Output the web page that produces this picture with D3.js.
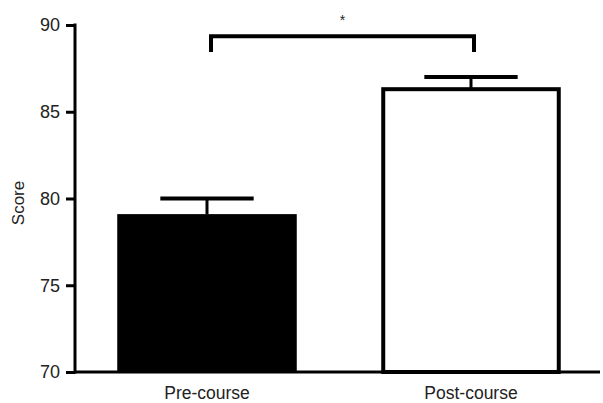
<!DOCTYPE html>
<html>
<head>
<meta charset="utf-8">
<script src="https://cdn.jsdelivr.net/npm/d3@7"></script>
<style>
  body { margin: 0; background: #fff; }
  text { font-family: "Liberation Sans", Arial, sans-serif; fill: #222; }
</style>
</head>
<body>
<div id="chart-area"></div>
<script>
var groups = ['Pre-course', 'Post-course'];
var means = [79.1, 86.3];
var errors = [0.9, 0.7];
var fills = ['#000', '#fff'];
var yTicks = [70, 75, 80, 85, 90];
var bracket = { from: 'Pre-course', to: 'Post-course', top: 89.35, leg: 88.45, label: '*' };

var W = 603, H = 403;
var margin = { top: 25, right: 0, bottom: 31, left: 75 };
var width = W - margin.left - margin.right;
var height = H - margin.top - margin.bottom;

var svg = d3.select('#chart-area').append('svg')
	.attr('width', W)
	.attr('height', H);
var g = svg.append('g').attr('transform', `translate(${margin.left}, ${margin.top})`);

var x = d3.scaleBand().domain(groups).range([0, width]).paddingInner(0.32).paddingOuter(0.16);
var y = d3.scaleLinear().domain([70, 90]).range([height, 0]);

// bars
g.selectAll('rect.bar').data(groups).enter()
	.append('rect')
		.attr('class', 'bar')
		.attr('x', (d, i) => x(d) + (i ? 2 : 0))
		.attr('y', (d, i) => y(means[i]))
		.attr('width', (d, i) => x.bandwidth() - (i ? 4 : 0))
		.attr('height', (d, i) => height - y(means[i]))
		.attr('fill', (d, i) => fills[i])
		.attr('stroke', '#000')
		.attr('stroke-width', (d, i) => i ? 4 : 0);

// error bars (upper only)
var capW = x.bandwidth() * 0.52;
groups.forEach((d, i) => {
	var cx = x(d) + x.bandwidth() / 2;
	g.append('line')
		.attr('x1', cx).attr('x2', cx)
		.attr('y1', y(means[i])).attr('y2', y(means[i] + errors[i]))
		.attr('stroke', '#000').attr('stroke-width', 3);
	g.append('line')
		.attr('x1', cx - capW / 2).attr('x2', cx + capW / 2)
		.attr('y1', y(means[i] + errors[i])).attr('y2', y(means[i] + errors[i]))
		.attr('stroke', '#000').attr('stroke-width', 4);
});

// axes
var yAxis = g.append('g').call(d3.axisLeft(y).tickValues(yTicks).tickSize(9).tickPadding(6));
yAxis.select('.domain').attr('stroke-width', 3).attr('d', `M0,${height + 1.5}V${-1.5}`);
yAxis.selectAll('.tick line').attr('stroke-width', 3);
yAxis.selectAll('.tick text').attr('font-size', '18px').attr('fill', '#222');

var xAxis = g.append('g').attr('transform', `translate(0, ${height})`)
	.call(d3.axisBottom(x).tickSize(0).tickPadding(15));
xAxis.select('.domain').attr('stroke-width', 3).attr('d', `M0,0H${width - 3}`);
xAxis.selectAll('.tick text').attr('font-size', '17.5px').attr('fill', '#222');

g.append('text')
	.attr('transform', 'rotate(-90)')
	.attr('x', -(height / 2 + 4.5))
	.attr('y', -51)
	.attr('text-anchor', 'middle')
	.attr('font-size', '17px')
	.text('Score');

// significance bracket
var bx1 = x(bracket.from) + x.bandwidth() / 2 + 4;
var bx2 = x(bracket.to) + x.bandwidth() / 2 + 3;
g.append('path')
	.attr('d', `M${bx1},${y(bracket.leg)}V${y(bracket.top)}H${bx2}V${y(bracket.leg)}`)
	.attr('fill', 'none')
	.attr('stroke', '#000')
	.attr('stroke-width', 4);
g.append('text')
	.attr('x', (bx1 + bx2) / 2)
	.attr('y', y(bracket.top) - 11)
	.attr('text-anchor', 'middle')
	.attr('font-size', '14px')
	.attr('fill', '#333')
	.text(bracket.label);
</script>
</body>
</html>
